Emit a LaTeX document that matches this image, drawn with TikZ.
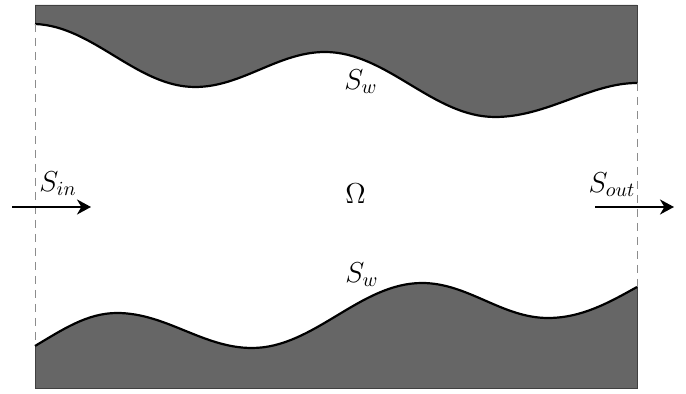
\documentclass[tikz,border=0pt]{standalone}
\usetikzlibrary{arrows.meta}
\begin{document}
\begin{tikzpicture}[x=0.5pt,y=-0.5pt,
  wallfill/.style={fill=black!60},
  wallline/.style={draw=black, line width=1.1pt},
  rimline/.style={draw=black!75, line width=0.4pt},
  boundary/.style={draw=black!45, dash pattern=on 4pt off 3pt, line width=0.4pt},
  flow/.style={draw=black, line width=1.4pt, -{Stealth[length=7pt,width=7.5pt,inset=2.2pt]}},
  lbl/.style={inner sep=0pt, font=\Large}]
\useasboundingbox (0,0) rectangle (686,394);
% top wall
\fill[wallfill] (35,5) -- (35,24)
  .. controls (93,26) and (137,87) .. (195,87)
  .. controls (242,87) and (278,52) .. (325,52)
  .. controls (387,52) and (433,117) .. (495,117)
  .. controls (547,117) and (590,83) .. (637,83)
  -- (637,5) -- cycle;
\draw[rimline] (35,24) -- (35,5) -- (637,5) -- (637,83);
\draw[wallline] (35,24)
  .. controls (93,26) and (137,87) .. (195,87)
  .. controls (242,87) and (278,52) .. (325,52)
  .. controls (387,52) and (433,117) .. (495,117)
  .. controls (547,117) and (590,83) .. (637,83);
% bottom wall
\fill[wallfill] (35,388) -- (35,346)
  .. controls (62,330) and (87,313) .. (117,313)
  .. controls (166,313) and (203,348) .. (252,348)
  .. controls (314,348) and (360,283) .. (422,283)
  .. controls (468,283) and (502,318) .. (548,318)
  .. controls (582,318) and (610,302) .. (637,287)
  -- (637,388) -- cycle;
\draw[rimline] (35,346) -- (35,388) -- (637,388) -- (637,287);
\draw[wallline] (35,346)
  .. controls (62,330) and (87,313) .. (117,313)
  .. controls (166,313) and (203,348) .. (252,348)
  .. controls (314,348) and (360,283) .. (422,283)
  .. controls (468,283) and (502,318) .. (548,318)
  .. controls (582,318) and (610,302) .. (637,287);
% inlet / outlet
\coordinate (inT) at (35,24);
\coordinate (inB) at (35,346);
\coordinate (outT) at (637,83);
\coordinate (outB) at (637,287);
\draw[boundary] (inT) -- (inB);
\draw[boundary] (outT) -- (outB);
\coordinate (a1) at (12,207);
\coordinate (a2) at (91,207);
\coordinate (b1) at (595,207);
\coordinate (b2) at (674,207);
\draw[flow] (a1) -- (a2);
\draw[flow] (b1) -- (b2);
% labels
\node[lbl] (sin) at (58,184) {$S_{in}$};
\node[lbl] (sout) at (612,185) {$S_{out}$};
\node[lbl] (om) at (355.5,194) {$\Omega$};
\node[lbl] (swt) at (361,82) {$S_w$};
\node[lbl] (swb) at (362,275) {$S_w$};
\end{tikzpicture}
\end{document}
